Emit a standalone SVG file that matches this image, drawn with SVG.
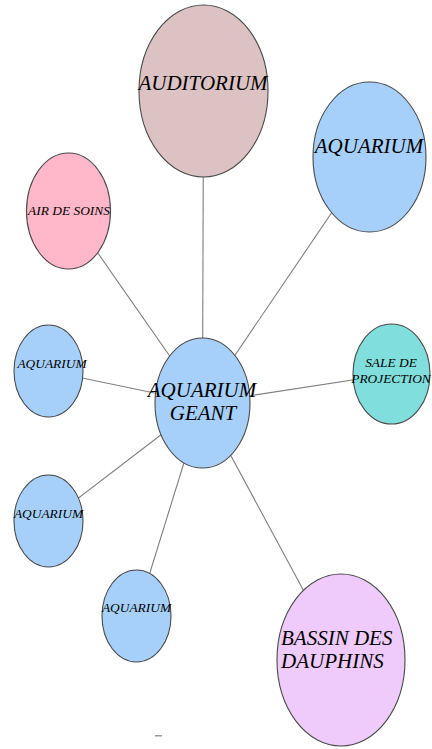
<svg xmlns="http://www.w3.org/2000/svg" width="432" height="749" viewBox="0 0 432 749">
  <style>
    .link { stroke: #7f7f7f; stroke-width: 1.1; fill: none; }
    .node { stroke: #4a4a4a; stroke-width: 1.1; }
    .lbl { font-family: "Liberation Serif", "Times New Roman", serif; font-style: italic; fill: #000; text-anchor: middle; }
    .start { text-anchor: start; }
    .big { font-size: 21px; }
    .small { font-size: 13.4px; }
    .aqua { fill: #a6d0fa; }
  </style>
  <rect width="432" height="749" fill="#ffffff"/>

  <!-- spokes from the central tank to every satellite -->
  <g id="connectors">
    <line class="link" x1="202.5" y1="403" x2="203.5" y2="91"/>
    <line class="link" x1="202.5" y1="403" x2="369.5" y2="157"/>
    <line class="link" x1="202.5" y1="403" x2="68.5" y2="211"/>
    <line class="link" x1="202.5" y1="403" x2="48.5" y2="371"/>
    <line class="link" x1="202.5" y1="403" x2="391.5" y2="374"/>
    <line class="link" x1="202.5" y1="403" x2="48.5" y2="521"/>
    <line class="link" x1="202.5" y1="403" x2="136.5" y2="616"/>
    <line class="link" x1="202.5" y1="403" x2="341" y2="660"/>
  </g>

  <g id="auditorium">
    <ellipse class="node" cx="203.5" cy="91" rx="64.5" ry="86" fill="#dcc2c2"/>
    <text class="lbl big" x="203" y="90">AUDITORIUM</text>
  </g>

  <g id="aquarium-ne">
    <ellipse class="node aqua" cx="369.5" cy="157" rx="56.5" ry="75"/>
    <text class="lbl big" x="369" y="153">AQUARIUM</text>
  </g>

  <g id="air-de-soins">
    <ellipse class="node" cx="68.5" cy="211" rx="42" ry="58" fill="#ffb7c9"/>
    <text class="lbl small" x="69" y="215" font-size="12.5">AIR DE SOINS</text>
  </g>

  <g id="aquarium-geant">
    <ellipse class="node aqua" cx="202.5" cy="403" rx="47.5" ry="65"/>
    <text class="lbl big" x="202" y="397" font-size="21.8">AQUARIUM</text>
    <text class="lbl big" x="203" y="420" font-size="21.8">GEANT</text>
  </g>

  <g id="salle-projection">
    <ellipse class="node" cx="391.5" cy="374" rx="38.5" ry="50" fill="#80dfdd"/>
    <text class="lbl small" x="391" y="367" font-size="12.5">SALE DE</text>
    <text class="lbl small" x="391" y="383" font-size="12.5">PROJECTION</text>
  </g>

  <g id="aquarium-w">
    <ellipse class="node aqua" cx="48.5" cy="371" rx="34.5" ry="46"/>
    <text class="lbl small" x="52" y="368">AQUARIUM</text>
  </g>

  <g id="aquarium-sw">
    <ellipse class="node aqua" cx="48.5" cy="521" rx="34.5" ry="46"/>
    <text class="lbl small" x="48.5" y="518">AQUARIUM</text>
  </g>

  <g id="aquarium-s">
    <ellipse class="node aqua" cx="136.5" cy="616" rx="34.5" ry="46"/>
    <text class="lbl small" x="136.5" y="612">AQUARIUM</text>
  </g>

  <g id="bassin-dauphins">
    <ellipse class="node" cx="341" cy="660" rx="64" ry="86" fill="#efcbfb"/>
    <text class="lbl big start" x="281" y="645">BASSIN DES</text>
    <text class="lbl big start" x="281" y="668">DAUPHINS</text>
  </g>

  <!-- small stray tick near the bottom edge -->
  <rect x="155" y="735" width="7" height="1.5" fill="#9a9a9a"/>
</svg>
